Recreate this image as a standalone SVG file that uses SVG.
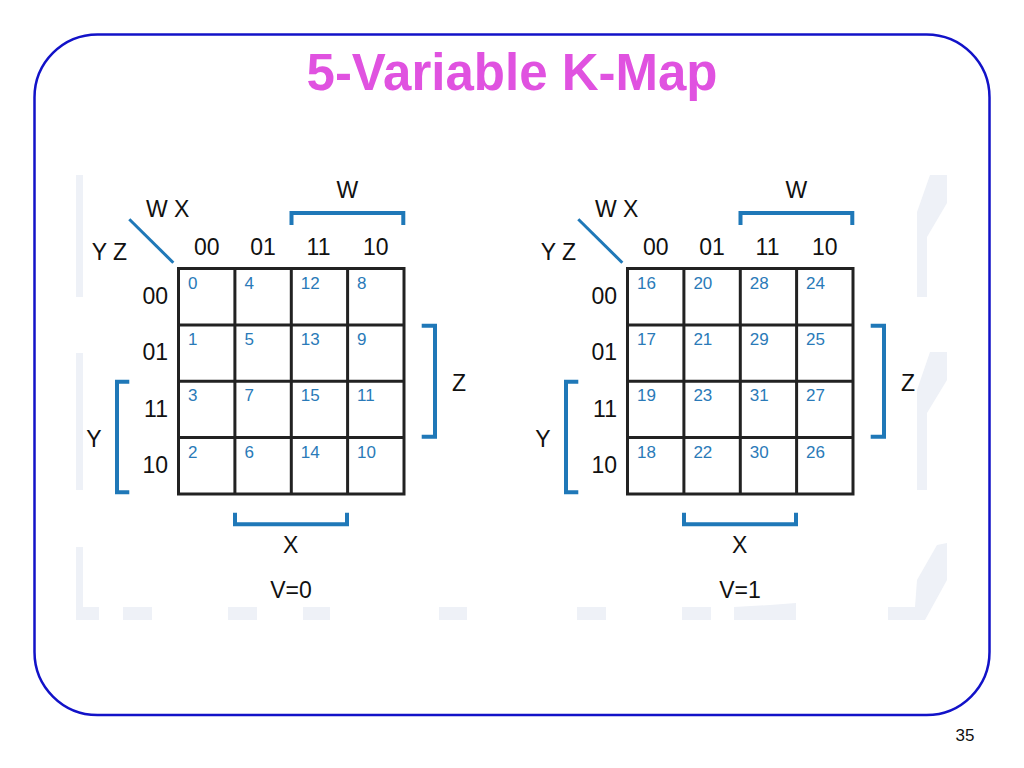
<svg xmlns="http://www.w3.org/2000/svg" width="1024" height="768" viewBox="0 0 1024 768">
<style>
.lbl{font-family:"Liberation Sans",Arial,sans-serif;font-size:23px;fill:#111}
.mid{text-anchor:middle}
.end{text-anchor:end}
.num{font-family:"Liberation Sans",Arial,sans-serif;font-size:17px;fill:#2a7ab8}
.grid{fill:none;stroke:#222;stroke-width:3}
.brk{fill:none;stroke:#1f78b8;stroke-width:4}
.diag{stroke:#1f78b8;stroke-width:3}
</style>
<rect width="1024" height="768" fill="#fff"/>
<g id="watermark" fill="#eef1f7">
<rect x="76" y="175" width="7" height="122"/>
<rect x="76" y="353" width="7" height="137"/>
<rect x="76" y="547" width="7" height="73"/>
<rect x="76" y="607" width="23" height="13"/>
<rect x="123" y="607" width="29" height="13"/>
<rect x="228" y="607" width="29" height="13"/>
<rect x="303" y="607" width="27" height="13"/>
<rect x="439" y="607" width="28" height="13"/>
<rect x="577" y="607" width="29" height="13"/>
<rect x="682" y="607" width="29" height="13"/>
<polygon points="734,607 770,605 796,603 796,620 734,620"/>
<polygon points="930,175 947,175 947,203 927,237 927,297 917,297 917,212"/>
<polygon points="930,352 947,352 947,380 927,413 927,490 917,490 917,390"/>
<polygon points="937,545 947,543 947,580 925,620 888,620 888,607 915,607 917,580"/>
</g>
<rect id="frame" x="34.5" y="34.5" width="955" height="680.5" rx="63" ry="63" fill="none" stroke="#1212c8" stroke-width="2.5"/>
<text id="title" x="512" y="90" text-anchor="middle" font-family="'Liberation Sans',Arial,sans-serif" font-weight="bold" font-size="51" fill="#e052e0">5-Variable K-Map</text>
<text id="page" x="965" y="741" text-anchor="middle" font-family="'Liberation Sans',Arial,sans-serif" font-size="17" fill="#111">35</text>

<g id="map-v0">
<g id="grid-v0">
<rect class="grid" x="178.5" y="268.5" width="225.5" height="225.5"/>
<path class="grid" d="M234.9,268.5V494M291.3,268.5V494M347.6,268.5V494M178.5,324.9H404M178.5,381.3H404M178.5,437.6H404"/>
</g>
<g id="cells-v0" class="num">
<text class="num" x="188" y="288.5">0</text><text class="num" x="244.4" y="288.5">4</text><text class="num" x="300.8" y="288.5">12</text><text class="num" x="357.1" y="288.5">8</text>
<text class="num" x="188" y="344.9">1</text><text class="num" x="244.4" y="344.9">5</text><text class="num" x="300.8" y="344.9">13</text><text class="num" x="357.1" y="344.9">9</text>
<text class="num" x="188" y="401.3">3</text><text class="num" x="244.4" y="401.3">7</text><text class="num" x="300.8" y="401.3">15</text><text class="num" x="357.1" y="401.3">11</text>
<text class="num" x="188" y="457.6">2</text><text class="num" x="244.4" y="457.6">6</text><text class="num" x="300.8" y="457.6">14</text><text class="num" x="357.1" y="457.6">10</text>
</g>
<g id="headers-v0">
<text class="lbl mid" x="206.7" y="255">00</text><text class="lbl mid" x="263" y="255">01</text><text class="lbl mid" x="318.5" y="255">11</text><text class="lbl mid" x="375.8" y="255">10</text>
<text class="lbl end" x="168" y="303.5">00</text><text class="lbl end" x="168" y="360">01</text><text class="lbl end" x="168" y="416.5">11</text><text class="lbl end" x="168" y="472.7">10</text>
<text class="lbl" x="146" y="216.7">W X</text>
<text class="lbl" x="91.7" y="260">Y Z</text>
<line class="diag" x1="129.3" y1="219.3" x2="173.3" y2="262.7"/>
</g>
<g id="brackets-v0">
<path class="brk" d="M291.5,225V213H403.3V225"/>
<text class="lbl mid" x="347.3" y="198.3">W</text>
<path class="brk" d="M421.7,325.7H435V436.7H421.7"/>
<text class="lbl mid" x="459" y="390.7">Z</text>
<path class="brk" d="M129.3,381.7H117V492.3H129.3"/>
<text class="lbl mid" x="94" y="447.3">Y</text>
<path class="brk" d="M235,512.7V524.3H347V512.7"/>
<text class="lbl mid" x="290.7" y="553.3">X</text>
</g>
<text class="lbl mid" x="291" y="598.3">V=0</text>
</g>

<g id="map-v1" transform="translate(449,0)">
<g id="grid-v1">
<rect class="grid" x="178.5" y="268.5" width="225.5" height="225.5"/>
<path class="grid" d="M234.9,268.5V494M291.3,268.5V494M347.6,268.5V494M178.5,324.9H404M178.5,381.3H404M178.5,437.6H404"/>
</g>
<g id="cells-v1">
<text class="num" x="188" y="288.5">16</text><text class="num" x="244.4" y="288.5">20</text><text class="num" x="300.8" y="288.5">28</text><text class="num" x="357.1" y="288.5">24</text>
<text class="num" x="188" y="344.9">17</text><text class="num" x="244.4" y="344.9">21</text><text class="num" x="300.8" y="344.9">29</text><text class="num" x="357.1" y="344.9">25</text>
<text class="num" x="188" y="401.3">19</text><text class="num" x="244.4" y="401.3">23</text><text class="num" x="300.8" y="401.3">31</text><text class="num" x="357.1" y="401.3">27</text>
<text class="num" x="188" y="457.6">18</text><text class="num" x="244.4" y="457.6">22</text><text class="num" x="300.8" y="457.6">30</text><text class="num" x="357.1" y="457.6">26</text>
</g>
<g id="headers-v1">
<text class="lbl mid" x="206.7" y="255">00</text><text class="lbl mid" x="263" y="255">01</text><text class="lbl mid" x="318.5" y="255">11</text><text class="lbl mid" x="375.8" y="255">10</text>
<text class="lbl end" x="168" y="303.5">00</text><text class="lbl end" x="168" y="360">01</text><text class="lbl end" x="168" y="416.5">11</text><text class="lbl end" x="168" y="472.7">10</text>
<text class="lbl" x="146" y="216.7">W X</text>
<text class="lbl" x="91.7" y="260">Y Z</text>
<line class="diag" x1="129.3" y1="219.3" x2="173.3" y2="262.7"/>
</g>
<g id="brackets-v1">
<path class="brk" d="M291.5,225V213H403.3V225"/>
<text class="lbl mid" x="347.3" y="198.3">W</text>
<path class="brk" d="M421.7,325.7H435V436.7H421.7"/>
<text class="lbl mid" x="459" y="390.7">Z</text>
<path class="brk" d="M129.3,381.7H117V492.3H129.3"/>
<text class="lbl mid" x="94" y="447.3">Y</text>
<path class="brk" d="M235,512.7V524.3H347V512.7"/>
<text class="lbl mid" x="290.7" y="553.3">X</text>
</g>
<text class="lbl mid" x="291" y="598.3">V=1</text>
</g>
</svg>
